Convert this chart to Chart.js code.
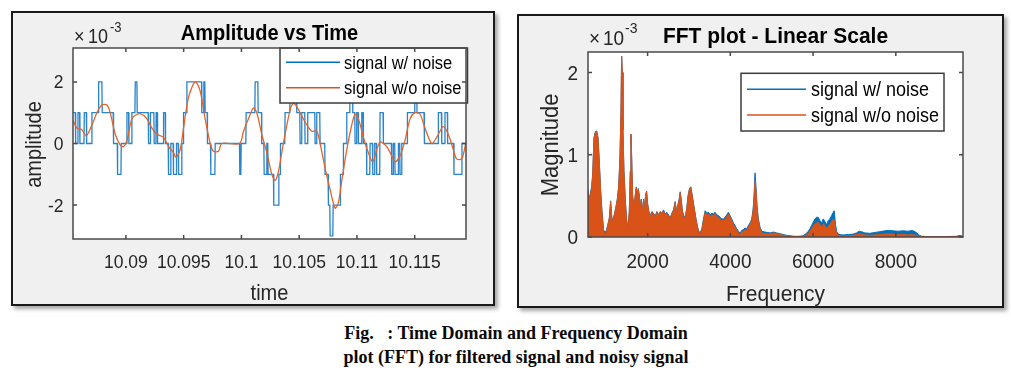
<!DOCTYPE html>
<html><head><meta charset="utf-8">
<script src="https://cdn.jsdelivr.net/npm/chart.js@4.4.1/dist/chart.umd.min.js"></script>
<style>
html,body{margin:0;padding:0;background:#fff;width:1011px;height:370px;overflow:hidden;}
.panel{position:absolute;box-sizing:border-box;border:2px solid #1a1a1a;background:#f0f0f0;box-shadow:3px 3px 4px rgba(0,0,0,0.35);}
canvas{position:absolute;}
#cap{position:absolute;left:216px;top:321px;width:600px;text-align:center;font:bold 18px/24px "Liberation Serif","Times New Roman",serif;color:#0a0a0a;white-space:nowrap;}
</style></head><body>
<div class="panel" style="left:11px;top:11px;width:484px;height:295px"></div>
<div class="panel" style="left:517px;top:14px;width:487px;height:294px"></div>
<canvas id="c1" width="480" height="291" style="left:13px;top:13px;width:480px;height:291px"></canvas>
<canvas id="c2" width="483" height="290" style="left:519px;top:16px;width:483px;height:290px"></canvas>
<div id="cap">Fig.&nbsp;&nbsp;&nbsp;: Time Domain and Frequency Domain<br>plot (FFT) for filtered signal and noisy signal</div>
<script>
// ---------- Time-domain data (amplitude in units of 1e-3) ----------
const timeTicks = [10.09, 10.095, 10.1, 10.105, 10.11, 10.115];
const timeTickLabels = ['10.09', '10.095', '10.1', '10.105', '10.11', '10.115'];
const ampTicks = [-2, 0, 2];
const ampTickLabels = ['-2', '0', '2'];

// signal w/ noise: quantized runs (start time, end time, level)
const noisyRunStart = [10.08542,10.08565,10.08585,10.08602,10.08640,10.08660,10.08706,10.08764,10.08795,10.08893,
 10.08928,10.08960,10.09009,10.09026,10.09052,10.09081,10.09098,10.09196,10.09213,10.09245,
 10.09262,10.09274,10.09326,10.09343,10.09369,10.09389,10.09412,10.09438,10.09456,10.09484,
 10.09499,10.09528,10.09657,10.09675,10.09686,10.09706,10.09735,10.09773,10.09986,10.09998,
 10.10041,10.10119,10.10145,10.10176,10.10197,10.10220,10.10231,10.10280,10.10324,10.10338,
 10.10378,10.10422,10.10479,10.10508,10.10522,10.10551,10.10574,10.10638,10.10652,10.10681,
 10.10724,10.10753,10.10768,10.10794,10.10857,10.10883,10.10912,10.10941,10.10964,10.10984,
 10.10998,10.11013,10.11042,10.11056,10.11085,10.11114,10.11137,10.11154,10.11171,10.11200,
 10.11229,10.11301,10.11315,10.11330,10.11359,10.11373,10.11388,10.11437,10.11503,10.11520,
 10.11584,10.11705,10.11734,10.11762,10.11785,10.11840,10.11909];
const noisyRunEnd = [10.08562,10.08582,10.08599,10.08637,10.08657,10.08703,10.08761,10.08792,10.08890,10.08925,
 10.08957,10.09006,10.09023,10.09049,10.09078,10.09095,10.09193,10.09211,10.09242,10.09260,
 10.09271,10.09323,10.09340,10.09366,10.09386,10.09409,10.09435,10.09453,10.09482,10.09496,
 10.09525,10.09655,10.09672,10.09683,10.09704,10.09732,10.09770,10.09983,10.09995,10.10038,
 10.10116,10.10142,10.10174,10.10194,10.10217,10.10228,10.10277,10.10321,10.10335,10.10375,
 10.10419,10.10476,10.10505,10.10520,10.10548,10.10572,10.10635,10.10649,10.10678,10.10721,
 10.10750,10.10765,10.10791,10.10854,10.10880,10.10909,10.10938,10.10961,10.10981,10.10995,
 10.11010,10.11039,10.11053,10.11082,10.11111,10.11134,10.11151,10.11168,10.11197,10.11226,
 10.11298,10.11313,10.11327,10.11356,10.11370,10.11385,10.11434,10.11500,10.11517,10.11581,
 10.11702,10.11731,10.11760,10.11783,10.11837,10.11907,10.11944];
const noisyRunLevel = [1,0,1,0,1,0,1,2,1,0,
 -1,0,1,0,1,2,1,0,1,0,
 1,0,1,0,-1,0,-1,0,-1,0,
 1,2,1,2,1,0,-1,0,-1,0,
 1,2,1,0,-1,0,-1,-2,-1,0,
 1,2,1,0,1,0,1,0,1,0,
 -1,-2,-3,-2,-1,0,1,2,1,0,
 1,0,1,0,-1,0,-1,0,-1,1,
 0,-1,0,-1,0,-1,0,1,2,1,
 0,1,0,1,0,-1,0];

// signal w/o noise (filtered)
const cleanT = [10.08542,10.08576,10.08619,10.08657,10.08706,10.08749,10.08792,10.08836,10.08864,10.08908,
 10.08951,10.08980,10.09009,10.09052,10.09095,10.09138,10.09182,10.09225,10.09268,10.09326,
 10.09369,10.09412,10.09435,10.09470,10.09499,10.09542,10.09600,10.09643,10.09686,10.09730,
 10.09758,10.09802,10.09830,10.09983,10.10018,10.10061,10.10104,10.10133,10.10176,10.10220,
 10.10263,10.10292,10.10321,10.10349,10.10378,10.10422,10.10450,10.10479,10.10522,10.10566,
 10.10609,10.10652,10.10681,10.10724,10.10768,10.10811,10.10840,10.10869,10.10912,10.10955,
 10.10984,10.11013,10.11056,10.11099,10.11137,10.11171,10.11200,10.11229,10.11258,10.11301,
 10.11330,10.11373,10.11416,10.11460,10.11503,10.11546,10.11589,10.11647,10.11690,10.11748,
 10.11791,10.11834,10.11863,10.11907,10.11944];
const cleanV = [0.75,0.5,0.45,0.25,0.6,1.0,1.25,1.25,1.0,0.3,
 -0.05,-0.1,0.1,0.8,0.95,0.95,0.8,0.5,0.3,0.2,
 -0.1,-0.3,-0.45,-0.2,0.5,1.5,2.0,1.7,0.8,0.0,
 -0.25,-0.25,0.0,0.0,0.4,0.8,1.15,1.0,0.3,-0.3,
 -1.0,-1.2,-0.9,-0.3,0.3,1.1,1.3,1.2,0.9,0.6,
 0.4,0.4,0.0,-0.8,-1.5,-2.1,-1.9,-1.2,-0.2,0.6,
 0.95,0.8,0.2,-0.3,-0.6,-0.2,0.05,0.0,-0.1,-0.4,
 -0.6,-0.4,0.1,0.8,1.0,0.95,0.5,0.0,0.2,0.55,
 0.3,-0.2,-0.5,-0.5,0.05];

// ---------- Frequency-domain data (magnitude in units of 1e-3) ----------
const freqTicks = [2000, 4000, 6000, 8000];
const freqTickLabels = ['2000', '4000', '6000', '8000'];
const magTicks = [0, 1, 2];
const magTickLabels = ['0', '1', '2'];
const freq = [560,593,617,649,673,705,737,770,802,834,866,898,938,995,1043,1075,1107,1139,1172,1204,
 1236,1268,1300,1332,1356,1373,1389,1405,1429,1461,1493,1525,1558,1582,1598,1614,1638,1670,1702,1727,
 1751,1775,1799,1823,1847,1871,1903,1928,1952,1976,2000,2032,2064,2105,2145,2185,2225,2265,2306,2346,
 2386,2426,2466,2507,2547,2587,2627,2667,2700,2732,2764,2788,2812,2844,2877,2909,2949,2981,3013,3045,
 3078,3110,3142,3174,3214,3263,3311,3351,3391,3431,3472,3512,3552,3592,3632,3672,3713,3753,3793,3833,
 3874,3914,3954,3994,4035,4075,4115,4155,4195,4236,4276,4316,4356,4396,4437,4477,4517,4549,4573,4598,
 4622,4646,4678,4718,4758,4839,4959,5039,5120,5200,5281,5361,5442,5522,5602,5683,5763,5828,5884,5924,
 5964,6004,6045,6085,6125,6165,6206,6246,6286,6326,6366,6406,6447,6487,6511,6543,6575,6624,6728,6849,
 6970,7050,7114,7171,7251,7372,7492,7613,7733,7814,7935,8055,8176,8296,8401,8481,8554,8618,8739,8980,
 9221,9462,9559,9607,9624];
const magNoisy = [0.57,0.47,0.52,0.62,0.77,1.21,1.28,1.29,1.21,0.91,0.56,0.32,0.08,0.06,0.16,0.23,0.44,0.21,0.23,0.29,
 0.37,0.46,0.61,0.96,1.5,2.2,2.0,1.3,0.81,0.46,0.21,0.11,0.31,0.8,1.25,1.0,0.51,0.36,0.51,0.61,
 0.51,0.59,0.51,0.36,0.46,0.31,0.46,0.36,0.51,0.56,0.41,0.31,0.26,0.31,0.29,0.25,0.31,0.27,0.31,0.29,
 0.33,0.28,0.3,0.27,0.23,0.29,0.33,0.43,0.31,0.39,0.46,0.55,0.46,0.31,0.26,0.23,0.36,0.51,0.59,0.61,
 0.51,0.41,0.31,0.21,0.11,0.04,0.1,0.22,0.32,0.29,0.3,0.27,0.29,0.28,0.3,0.27,0.26,0.24,0.22,0.22,
 0.24,0.27,0.3,0.26,0.22,0.17,0.14,0.1,0.07,0.05,0.08,0.09,0.11,0.1,0.14,0.17,0.22,0.33,0.5,0.78,
 0.6,0.38,0.22,0.12,0.07,0.06,0.05,0.06,0.05,0.04,0.03,0.02,0.015,0.01,0.008,0.01,0.015,0.04,0.07,0.1,
 0.14,0.18,0.22,0.24,0.24,0.2,0.17,0.22,0.19,0.15,0.2,0.22,0.26,0.3,0.32,0.15,0.06,0.03,0.025,0.03,
 0.035,0.05,0.07,0.065,0.05,0.045,0.055,0.065,0.075,0.08,0.075,0.07,0.075,0.07,0.08,0.06,0.025,0.01,0.006,0.006,
 0.006,0.008,0.02,0.01,0.005];
const magClean = [0.55,0.45,0.5,0.6,0.75,1.2,1.27,1.28,1.2,0.9,0.55,0.3,0.06,0.04,0.15,0.22,0.43,0.2,0.22,0.28,
 0.36,0.45,0.6,0.95,1.5,2.2,2.0,1.3,0.8,0.45,0.2,0.1,0.3,0.8,1.25,1.0,0.5,0.35,0.5,0.6,
 0.5,0.58,0.5,0.35,0.45,0.3,0.45,0.35,0.5,0.55,0.4,0.3,0.25,0.3,0.28,0.24,0.3,0.26,0.3,0.28,
 0.32,0.27,0.29,0.26,0.22,0.28,0.32,0.42,0.3,0.38,0.45,0.54,0.45,0.3,0.25,0.22,0.35,0.5,0.58,0.6,
 0.5,0.4,0.3,0.2,0.1,0.03,0.08,0.2,0.3,0.27,0.28,0.25,0.27,0.26,0.28,0.25,0.24,0.22,0.2,0.2,
 0.22,0.25,0.28,0.24,0.2,0.15,0.12,0.08,0.05,0.03,0.06,0.07,0.09,0.08,0.12,0.15,0.2,0.3,0.45,0.68,
 0.55,0.35,0.2,0.1,0.05,0.04,0.04,0.05,0.04,0.03,0.02,0.015,0.01,0.005,0.005,0.005,0.01,0.02,0.04,0.07,
 0.1,0.13,0.16,0.17,0.18,0.15,0.12,0.16,0.14,0.1,0.13,0.16,0.18,0.22,0.2,0.1,0.04,0.02,0.01,0.015,
 0.02,0.03,0.04,0.035,0.025,0.02,0.025,0.03,0.035,0.04,0.035,0.03,0.03,0.025,0.03,0.02,0.01,0.005,0.003,0.003,
 0.003,0.004,0.01,0.005,0.003];

// ---------- helpers ----------
const FONT = '"Liberation Sans", Arial, Helvetica, sans-serif';
const BLUE = '#0072BD', ORANGE = '#D95319';
const AXC = '#262626';
const SY = 1.09; // vertical stretch of the reference's text

const noisyPts = [];
noisyRunLevel.forEach((lv, i) => {
  noisyPts.push({x: noisyRunStart[i], y: lv});
  noisyPts.push({x: noisyRunEnd[i], y: lv});
});
const cleanPts = cleanT.map((t, i) => ({x: t, y: cleanV[i]}));
const fftNoisyPts = freq.map((f, i) => ({x: f, y: magNoisy[i]}));
const fftCleanPts = freq.map((f, i) => ({x: f, y: magClean[i]}));

function txt(ctx, s, x, y, font, align, rot) {
  ctx.save();
  ctx.translate(x, y);
  if (rot) ctx.rotate(-Math.PI / 2);
  ctx.scale(rot ? 1 : 1, rot ? 1 : SY);
  if (rot) ctx.scale(1, SY);
  ctx.font = font + ' ' + FONT;
  ctx.textAlign = align;
  ctx.textBaseline = 'alphabetic';
  ctx.fillText(s, 0, 0);
  ctx.restore();
}

const matlabPlugin = {
  id: 'matlab',
  beforeDraw(chart) {
    const {ctx, chartArea: a} = chart;
    ctx.save();
    ctx.fillStyle = '#ffffff';
    ctx.fillRect(a.left, a.top, a.right - a.left, a.bottom - a.top);
    ctx.restore();
  },
  afterDraw(chart, args, o) {
    const {ctx, chartArea: a, scales} = chart;
    ctx.save();
    // legend
    const L = o.legend;
    ctx.fillStyle = '#ffffff';
    ctx.fillRect(L.box[0], L.box[1], L.box[2] - L.box[0], L.box[3] - L.box[1]);
    ctx.strokeStyle = '#3c3c3c';
    ctx.lineWidth = 1.5;
    ctx.strokeRect(L.box[0], L.box[1], L.box[2] - L.box[0], L.box[3] - L.box[1]);
    const cols = [o.c1, o.c2];
    const names = ['signal w/ noise', 'signal w/o noise'];
    L.rows.forEach((ry, i) => {
      ctx.strokeStyle = cols[i];
      ctx.lineWidth = 1.5;
      ctx.beginPath();
      ctx.moveTo(L.lineX[0], ry);
      ctx.lineTo(L.lineX[1], ry);
      ctx.stroke();
      ctx.fillStyle = '#000';
      txt(ctx, names[i], L.textX, ry + L.dy, L.font, 'left');
    });
    // axes box
    ctx.strokeStyle = '#4a4a4a';
    ctx.lineWidth = 1.5;
    ctx.strokeRect(a.left, a.top, a.right - a.left, a.bottom - a.top);
    // inward ticks on all sides
    const tl = 4;
    ctx.beginPath();
    scales.x.ticks.forEach(t => {
      const px = scales.x.getPixelForValue(t.value);
      ctx.moveTo(px, a.bottom); ctx.lineTo(px, a.bottom - tl);
      ctx.moveTo(px, a.top); ctx.lineTo(px, a.top + tl);
    });
    scales.y.ticks.forEach(t => {
      const py = scales.y.getPixelForValue(t.value);
      ctx.moveTo(a.left, py); ctx.lineTo(a.left + tl, py);
      ctx.moveTo(a.right, py); ctx.lineTo(a.right - tl, py);
    });
    ctx.stroke();
    // tick labels
    ctx.fillStyle = AXC;
    const T = o.tickText;
    scales.x.ticks.forEach((t, i) => {
      txt(ctx, T.xLabels[i], scales.x.getPixelForValue(t.value), T.xBase, T.font, 'center');
    });
    scales.y.ticks.forEach((t, i) => {
      txt(ctx, T.yLabels[i], a.left - T.yPad, scales.y.getPixelForValue(t.value) + T.yDy, T.font, 'right');
    });
    // title and axis labels
    ctx.fillStyle = '#000';
    txt(ctx, o.title.text, (a.left + a.right) / 2, o.title.y, o.title.font, 'center');
    ctx.fillStyle = AXC;
    txt(ctx, o.xlabel.text, (a.left + a.right) / 2, o.xlabel.y, o.xlabel.font, 'center');
    txt(ctx, o.ylabel.text, o.ylabel.x, o.ylabel.y, o.ylabel.font, 'center', true);
    // exponent label
    const E = o.expo;
    txt(ctx, '\u00d7', E.xTimes, E.y, E.font, 'left');
    txt(ctx, '10', E.xTen, E.y, E.font, 'left');
    txt(ctx, '-3', E.xSup, E.supY, E.supFont, 'left');
    ctx.restore();
  }
};

function axis(min, max, ticks, size) {
  return {
    type: 'linear', min: min, max: max,
    afterBuildTicks: s => { s.ticks = ticks.map(v => ({value: v})); },
    afterFit: s => { if (size.w !== undefined) s.width = size.w; else s.height = size.h; },
    ticks: {display: false, autoSkip: false, maxRotation: 0},
    grid: {display: false, drawTicks: false},
    border: {display: false}
  };
}

Chart.register(matlabPlugin);

new Chart(document.getElementById('c1'), {
  type: 'line',
  data: {datasets: [
    {label: 'signal w/ noise', data: noisyPts, borderColor: '#2a84c9', borderWidth: 1.3, pointRadius: 0, tension: 0, order: 2},
    {label: 'signal w/o noise', data: cleanPts, borderColor: '#e4642c', borderWidth: 1.3, pointRadius: 0, tension: 0.3, order: 1}
  ]},
  options: {
    responsive: false, animation: false, devicePixelRatio: 1,
    layout: {padding: {left: 0, top: 35, right: 27, bottom: 0}},
    scales: {
      x: axis(10.08542, 10.11944, timeTicks, {h: 65}),
      y: axis(-3.1, 3.1, ampTicks, {w: 60})
    },
    plugins: {
      legend: {display: false}, title: {display: false}, tooltip: {enabled: false},
      matlab: {
        c1: BLUE, c2: ORANGE,
        tickText: {font: '17.5px', xLabels: timeTickLabels, yLabels: ampTickLabels, xBase: 255.3, yPad: 9.5, yDy: 6.6},
        title: {text: 'Amplitude vs Time', font: 'bold 20px', y: 27},
        xlabel: {text: 'time', font: '20px', y: 287},
        ylabel: {text: 'amplitude', font: '20px', x: 28, y: 131.5},
        expo: {font: '18px', supFont: '13px', xTimes: 61, xTen: 75, xSup: 97, y: 29.7, supY: 19.3},
        legend: {box: [267, 35, 454.5, 90], lineX: [273, 327], rows: [49.3, 74.7], textX: 331, font: '16.5px', dy: 6.2}
      }
    }
  }
});

new Chart(document.getElementById('c2'), {
  type: 'line',
  data: {datasets: [
    {label: 'signal w/ noise', data: fftNoisyPts, borderColor: BLUE, backgroundColor: BLUE, fill: 'origin', borderWidth: 1, pointRadius: 0, tension: 0, order: 2},
    {label: 'signal w/o noise', data: fftCleanPts, borderColor: ORANGE, backgroundColor: ORANGE, fill: 'origin', borderWidth: 1, pointRadius: 0, tension: 0, order: 1}
  ]},
  options: {
    responsive: false, animation: false, devicePixelRatio: 1,
    layout: {padding: {left: 0, top: 36, right: 39, bottom: 0}},
    scales: {
      x: axis(560, 9624, freqTicks, {h: 69}),
      y: axis(0, 2.25, magTicks, {w: 69})
    },
    plugins: {
      legend: {display: false}, title: {display: false}, tooltip: {enabled: false},
      filler: {propagate: false},
      matlab: {
        c1: BLUE, c2: ORANGE,
        tickText: {font: '19px', xLabels: freqTickLabels, yLabels: magTickLabels, xBase: 252.3, yPad: 10, yDy: 7.4},
        title: {text: 'FFT plot - Linear Scale', font: 'bold 21px', y: 26.7},
        xlabel: {text: 'Frequency', font: '21px', y: 285},
        ylabel: {text: 'Magnitude', font: '22px', x: 38.5, y: 129},
        expo: {font: '19px', supFont: '14px', xTimes: 70, xTen: 84, xSup: 106, y: 29, supY: 17.3},
        legend: {box: [222, 57.3, 425, 115], lineX: [228, 287], rows: [73.3, 99], textX: 292, font: '18px', dy: 6.8}
      }
    }
  }
});
</script>
</body></html>
